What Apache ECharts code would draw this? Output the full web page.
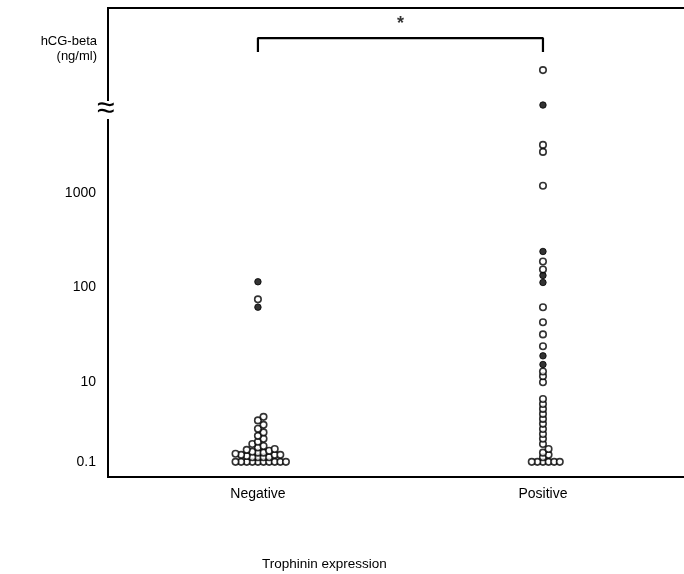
<!DOCTYPE html>
<html><head><meta charset="utf-8">
<script src="https://cdn.jsdelivr.net/npm/echarts@6/dist/echarts.min.js"></script>
<style>html,body{margin:0;padding:0;background:#fff}#c{width:684px;height:574px}</style>
</head><body><div id="c"></div>
<script>
// ---- data (hCG-beta, ng/ml) ----
const categories = ['Negative', 'Positive'];
const yTicks = [1000, 100, 10, 0.1];
const negativeOpen = [75, 1.35, 1.1, 0.85, 0.68, 0.55, 0.45, 0.38, 0.32, 0.28, 0.25, 0.23, 0.21, 0.2, 0.19, 0.18, 0.17, 0.17, 0.16, 0.15, 0.15, 0.15, 0.14, 0.13, 0.13, 0.13, 0.13,
  0.1, 0.1, 0.1, 0.1, 0.1, 0.1, 0.1, 0.1, 0.1, 0.1];
const negativeFilled = [115, 62];
const positiveOpen = [19700, 3200, 2700, 1185, 188, 155, 62, 43, 32, 24, 13, 11.6, 10, 3.8, 2.85, 2.14, 1.6, 1.2, 0.9, 0.67, 0.5, 0.38, 0.28, 0.21, 0.17, 0.15, 0.13,
  0.1, 0.1, 0.1, 0.1, 0.1, 0.1];
const positiveFilled = [8430, 240, 134, 113, 19, 15.4];
const xTitle = 'Trophinin expression';
const yTitle = ['hCG-beta', '(ng/ml)'];
const sigLabel = '*';

// piecewise log scale: full decades above 10, compressed below 10
function T(v) { const l = Math.log10(v); return l >= 1 ? l : 1 - (1 - l) * 0.42; }

const FONT = '"Liberation Sans", Arial, sans-serif';
const YMAX = 4.95;
const chart = echarts.init(document.getElementById('c'), null, { renderer: 'canvas' });

const baseOption = {
  animation: false,
  backgroundColor: '#fff',
  grid: { left: 108, top: 8, width: 600, bottom: 97, show: true, borderColor: '#000', borderWidth: 2,
          containLabel: false, outerBoundsMode: 'none' },
  xAxis: {
    type: 'value', min: 0.474, max: 2.579,
    axisLine: { show: true, lineStyle: { color: '#000', width: 2 } },
    axisTick: { show: false }, splitLine: { show: false },
    axisLabel: {
      customValues: [1, 2], margin: 10, color: '#000', fontFamily: FONT, fontSize: 14,
      formatter: v => categories[Math.round(v) - 1] || ''
    }
  },
  yAxis: {
    type: 'value', min: 0, max: YMAX,
    axisLine: { show: true, lineStyle: { color: '#000', width: 2 } },
    axisTick: { show: false }, splitLine: { show: false },
    axisLabel: {
      customValues: yTicks.map(T), margin: 12, color: '#000', fontFamily: FONT, fontSize: 14,
      formatter: v => { const t = yTicks.find(k => Math.abs(T(k) - v) < 1e-6); return t === undefined ? '' : String(t); }
    }
  },
  series: []
};
chart.setOption(baseOption);

// beeswarm dodge in pixel space
function swarm(groupIdx, open, filled) {
  const pts = open.map(v => ({ v, f: false })).concat(filled.map(v => ({ v, f: true })));
  pts.forEach(p => { p.py = chart.convertToPixel({ gridIndex: 0 }, [groupIdx, T(p.v)])[1]; });
  pts.sort((a, b) => b.py - a.py);
  const cx = chart.convertToPixel({ gridIndex: 0 }, [groupIdx, 0])[0];
  const step = 5.6, minD = 3.9;
  const placed = [];
  pts.forEach(p => {
    for (let k = 0; k < 40; k++) {
      const off = k === 0 ? 0 : (k % 2 ? 1 : -1) * Math.ceil(k / 2) * step;
      const x = cx + off;
      if (placed.every(q => Math.hypot(q.px - x, q.py - p.py) >= minD)) { p.px = x; break; }
    }
    placed.push(p);
  });
  return pts.map(p => ({ x: chart.convertFromPixel({ gridIndex: 0 }, [p.px, p.py])[0], u: T(p.v), f: p.f, v: p.v }));
}

const neg = swarm(1, negativeOpen, negativeFilled);
const pos = swarm(2, positiveOpen, positiveFilled);
const all = neg.concat(pos);

const sym = { type: 'scatter', symbol: 'circle', symbolSize: 6.5, z: 5 };
chart.setOption({
  series: [
    Object.assign({}, sym, {
      data: all.filter(p => !p.f).map(p => [p.x, p.u]),
      itemStyle: { color: '#fff', borderColor: '#000', borderWidth: 1.6 }
    }),
    Object.assign({}, sym, {
      data: all.filter(p => p.f).map(p => [p.x, p.u]),
      itemStyle: { color: '#000', borderColor: '#000', borderWidth: 1 }
    }),
    {
      type: 'line', symbol: 'none', silent: true,
      data: [[1, YMAX - 0.465], [1, YMAX - 0.317], [2, YMAX - 0.317], [2, YMAX - 0.465]],
      lineStyle: { color: '#000', width: 2.2 }
    },
    {
      type: 'scatter', symbolSize: 0, silent: true,
      data: [[1.5, YMAX - 0.17]],
      label: { show: true, formatter: sigLabel, position: 'inside', color: '#000', fontSize: 18, fontWeight: 'bold', fontFamily: FONT }
    }
  ],
  graphic: [
    { type: 'text', right: 684 - 97, top: 35, style: { text: yTitle[0], font: '13px ' + FONT, fill: '#000', textAlign: 'right' } },
    { type: 'text', right: 684 - 97, top: 50, style: { text: yTitle[1], font: '13px ' + FONT, fill: '#000', textAlign: 'right' } },
    { type: 'text', left: 262, top: 557, style: { text: xTitle, font: '13.5px ' + FONT, fill: '#000' } },
    { type: 'rect', shape: { x: 103, y: 101, width: 11, height: 18 }, style: { fill: '#fff' }, z: 10 },
    { type: 'text', x: 97, y: 93, style: { text: '≈', font: '32px ' + FONT, fill: '#000' }, z: 11 }
  ]
});
</script>
</body></html>
